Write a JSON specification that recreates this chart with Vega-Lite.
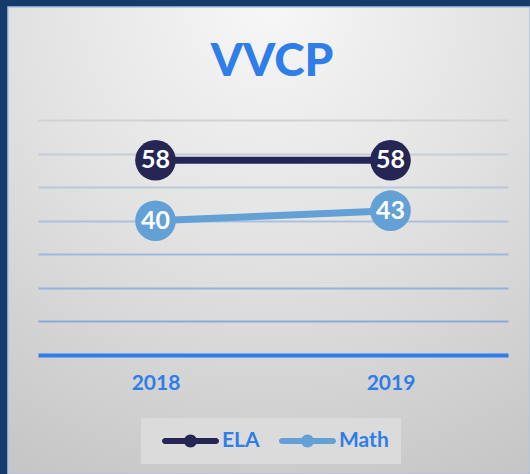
{
  "$schema": "https://vega.github.io/schema/vega-lite/v6.json",
  "autosize": "none",
  "width": 522,
  "height": 467,
  "padding": {"left": 8, "top": 7, "right": 0, "bottom": 0},
  "background": "#143b6a",
  "config": {
    "view": {
      "stroke": "#a9c4e8",
      "strokeWidth": 1.5,
      "fill": {
        "gradient": "radial",
        "x1": 0.5, "y1": 0.05, "r1": 0,
        "x2": 0.5, "y2": 0.05, "r2": 1,
        "stops": [
          {"offset": 0, "color": "#f7f7f7"},
          {"offset": 0.45, "color": "#e3e3e3"},
          {"offset": 1, "color": "#c6c6c6"}
        ]
      }
    }
  },
  "title": {
    "text": "VVCP",
    "anchor": "middle",
    "frame": "group",
    "orient": "top",
    "offset": -66,
    "baseline": "alphabetic",
    "font": "Lato",
    "fontSize": 46,
    "fontWeight": 900,
    "color": "#2f7de8",
    "dx": 3,
    "dy": 49
  },
  "data": {
    "values": [
      {"year": "2018", "series": "ELA", "value": 58},
      {"year": "2019", "series": "ELA", "value": 58},
      {"year": "2018", "series": "Math", "value": 40},
      {"year": "2019", "series": "Math", "value": 43}
    ]
  },
  "encoding": {
    "x": {
      "field": "year",
      "type": "ordinal",
      "scale": {"type": "point", "range": [30, 500], "padding": 0.5},
      "axis": {
        "title": null,
        "orient": "bottom",
        "offset": -119,
        "labelAngle": 0,
        "ticks": false,
        "domainColor": "#2f7de8",
        "domainWidth": 4,
        "labelColor": "#2f7de8",
        "labelFont": "Lato",
        "labelFontSize": 21,
        "labelFontWeight": "bold",
        "labelPadding": 17,
        "grid": false
      }
    },
    "y": {
      "field": "value",
      "type": "quantitative",
      "scale": {"domain": [0, 70], "range": [348, 113], "nice": false, "zero": true},
      "axis": {
        "title": null,
        "domain": false,
        "ticks": false,
        "labels": false,
        "grid": true,
        "gridWidth": 2,
        "values": [10, 20, 30, 40, 50, 60, 70],
        "gridColor": {
          "condition": [
            {"test": "datum.value >= 70", "value": "#d0d1d3"},
            {"test": "datum.value >= 60", "value": "#c6cdd8"},
            {"test": "datum.value >= 50", "value": "#bcc8da"},
            {"test": "datum.value >= 40", "value": "#abc0dd"},
            {"test": "datum.value >= 30", "value": "#9fb8de"},
            {"test": "datum.value >= 20", "value": "#93b0df"}
          ],
          "value": "#89a9df"
        }
      }
    },
    "color": {
      "field": "series",
      "type": "nominal",
      "scale": {"domain": ["ELA", "Math"], "range": ["#252654", "#62a0d5"]},
      "legend": {
        "title": null,
        "orient": "none",
        "legendX": 133,
        "legendY": 411,
        "direction": "horizontal",
        "fillColor": "#dbdbdb",
        "padding": 12,
        "symbolType": "M-0.579,-0.105 H1.211 A0.105,0.105 0 0,1 1.211,0.105 H-0.579 A0.105,0.105 0 0,1 -0.579,-0.105 Z M0.544,0 A0.228,0.228 0 1,1 0.088,0 A0.228,0.228 0 1,1 0.544,0 Z",
        "symbolSize": 3249,
        "symbolStrokeWidth": 0,
        "clipHeight": 22,
        "labelFont": "Lato",
        "labelFontSize": 21,
        "labelFontWeight": "bold",
        "labelColor": "#2f7de8",
        "labelOffset": 12,
        "columnPadding": 10,
        "encode": {
          "symbols": {
            "update": {
              "fill": {"scale": "color", "field": "value"},
              "stroke": {"value": "transparent"},
              "opacity": {"value": 1}
            }
          }
        }
      }
    }
  },
  "layer": [
    {"mark": {"type": "line", "strokeWidth": 7}},
    {"mark": {"type": "point", "filled": true, "size": 1650, "opacity": 1}},
    {
      "mark": {"type": "text", "color": "white", "font": "Lato", "fontSize": 25, "fontWeight": "bold", "baseline": "middle", "align": "center"},
      "encoding": {"text": {"field": "value", "type": "quantitative"}, "color": {"value": "white"}}
    }
  ]
}
